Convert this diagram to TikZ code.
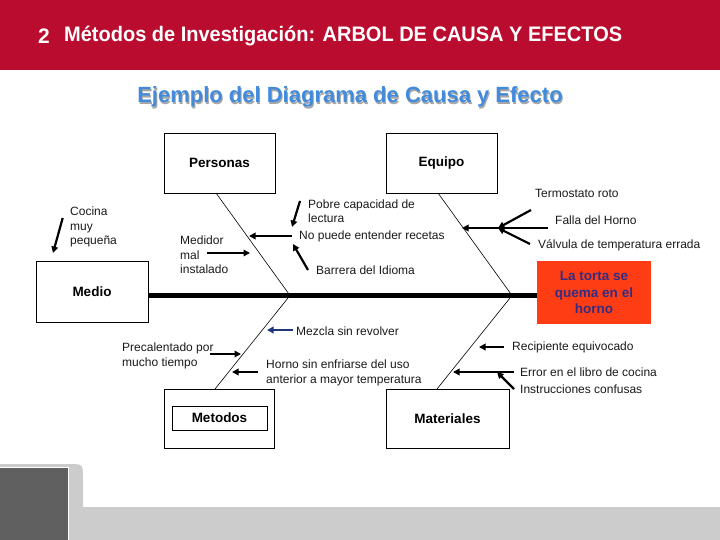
\documentclass[tikz,border=0pt]{standalone}
\usepackage{fontspec}
\setmainfont{Liberation Sans}
\usetikzlibrary{arrows.meta}
\definecolor{hdr}{RGB}{186,12,47}
\definecolor{subblue}{RGB}{66,139,220}
\definecolor{effred}{RGB}{255,61,20}
\definecolor{efftext}{RGB}{50,45,130}
\definecolor{navyarr}{RGB}{30,55,120}
\definecolor{lgray}{RGB}{204,204,204}
\definecolor{dgray}{RGB}{96,96,96}
\begin{document}
\begin{tikzpicture}[x=1pt,y=-1pt,
  lbl/.style={font=\fontsize{12}{14.5}\selectfont, inner sep=0pt, align=left, anchor=west, text=black!90},
  catbox/.style={draw, line width=0.8pt, font=\fontsize{13.5}{16}\selectfont\bfseries, inner sep=0pt},
  bone/.style={line width=0.6pt},
  arr/.style={line width=2.2pt, -{Triangle[length=6.5pt,width=6.5pt]}},
]
\useasboundingbox (0,0) rectangle (720,540);
% header
\fill[hdr] (0,0) rectangle (720,70);
\node[text=white, font=\fontsize{21}{24}\selectfont\bfseries, inner sep=0pt] (num) at (44,36) {2};
\node[text=white, font=\fontsize{21}{24}\selectfont\bfseries, inner sep=0pt, anchor=west] (title) at (64,36)
  {\scalebox{0.952}[1]{Métodos de Investigación: ARBOL DE CAUSA Y EFECTOS}};
% subtitle
\node[text=black!35, font=\fontsize{22}{26}\selectfont\bfseries, inner sep=0pt] (subsh) at (351,98.5) {Ejemplo del Diagrama de Causa y Efecto};
\node[text=subblue, font=\fontsize{22}{26}\selectfont\bfseries, inner sep=0pt] (sub) at (350,97) {Ejemplo del Diagrama de Causa y Efecto};
% bottom decoration
\fill[lgray] (0,540) -- (0,464) -- (69,464) .. controls (83,464) .. (83,478) -- (83,507) -- (720,507) -- (720,540) -- cycle;
\fill[dgray] (0,467) rectangle (68,540);
\draw[white, line width=1pt] (0,467) -- (68,467) -- (68,540);
% category boxes
\node[catbox, minimum width=111pt, minimum height=60pt] (Personas) at (219.5,163) {Personas};
\node[catbox, minimum width=111pt, minimum height=60pt] (Equipo) at (441.5,163) {Equipo};
\node[catbox, minimum width=112pt, minimum height=61pt] (Medio) at (92,291.5) {Medio};
\node[draw, line width=0.8pt, minimum width=110pt, minimum height=59pt, inner sep=0pt] (MetOut) at (219,418.5) {};
\node[catbox, minimum width=95pt, minimum height=24pt] (Metodos) at (219.5,418) {Metodos};
\node[catbox, minimum width=123pt, minimum height=59pt] (Materiales) at (447.5,418.5) {Materiales};
\node[fill=effred, text=efftext, font=\fontsize{13.5}{16.5}\selectfont\bfseries, align=center,
  minimum width=114pt, minimum height=63pt, inner sep=0pt] (Effect) at (594,292.5) {La torta se\\quema en el\\horno};
% spine and bones
\coordinate (j1) at (290,295.5);
\coordinate (j2) at (512,295.5);
\coordinate (pb) at (216,193);
\coordinate (eb) at (438,193);
\coordinate (mb) at (215,389);
\coordinate (tb) at (437,389);
\draw[line width=4.5pt] (Medio.east |- j1) -- (Effect.west |- j1);
\draw[bone] (pb) -- (j1) -- (mb);
\draw[bone] (eb) -- (j2) -- (tb);
% labels
\node[lbl] (cocina) at (70,227) {Cocina\\muy\\pequeña};
\node[lbl] (medidor) at (180,255) {Medidor\\mal\\instalado};
\node[lbl] (pobre) at (308,211) {Pobre capacidad de\\lectura};
\node[lbl] (nopuede) at (299,236) {No puede entender recetas};
\node[lbl] (barrera) at (316,270) {Barrera del Idioma};
\node[lbl] (termo) at (535,193) {Termostato roto};
\node[lbl] (falla) at (555,220) {Falla del Horno};
\node[lbl] (valvula) at (538,245) {Válvula de temperatura errada};
\node[lbl] (mezcla) at (296,331) {Mezcla sin revolver};
\node[lbl] (precal) at (122,356) {Precalentado por\\mucho tiempo};
\node[lbl] (horno) at (266,373) {Horno sin enfriarse del uso\\anterior a mayor temperatura};
\node[lbl] (recip) at (512,347) {Recipiente equivocado};
\node[lbl] (error) at (520,372) {Error en el libro de cocina};
\node[lbl] (instr) at (520,389) {Instrucciones confusas};
% arrow end points
\coordinate (a1s) at (62.7,218); \coordinate (a1e) at (53,253);
\coordinate (a2s) at (207,253);  \coordinate (a2e) at (250,253);
\coordinate (a3s) at (292,236);  \coordinate (a3e) at (249,236);
\coordinate (a4s) at (300,201);  \coordinate (a4e) at (292,227);
\coordinate (a5s) at (308,270);  \coordinate (a5e) at (293,244);
\coordinate (a6s) at (548,228);  \coordinate (a6e) at (462,228);
\coordinate (a7s) at (531,210);  \coordinate (a7e) at (498,228);
\coordinate (a8s) at (530,244);
\coordinate (a9s) at (293,330);  \coordinate (a9e) at (267,330);
\coordinate (b1s) at (210,354);  \coordinate (b1e) at (241,354);
\coordinate (b2s) at (258,372);  \coordinate (b2e) at (232,372);
\coordinate (b3s) at (504,347);  \coordinate (b3e) at (479,347);
\coordinate (b4s) at (514,372);  \coordinate (b4e) at (453,372);
\coordinate (b5s) at (514,389);  \coordinate (b5e) at (497,372);
% arrows
\draw[arr] (a1s) -- (a1e);
\draw[arr] (a2s) -- (a2e);
\draw[arr] (a3s) -- (a3e);
\draw[arr] (a4s) -- (a4e);
\draw[arr] (a5s) -- (a5e);
\draw[arr] (a6s) -- (a6e);
\draw[arr] (a7s) -- (a7e);
\draw[arr] (a8s) -- (a7e);
\draw[arr, draw=navyarr, fill=navyarr] (a9s) -- (a9e);
\draw[arr] (b1s) -- (b1e);
\draw[arr] (b2s) -- (b2e);
\draw[arr] (b3s) -- (b3e);
\draw[arr] (b4s) -- (b4e);
\draw[arr] (b5s) -- (b5e);
\end{tikzpicture}
\end{document}
